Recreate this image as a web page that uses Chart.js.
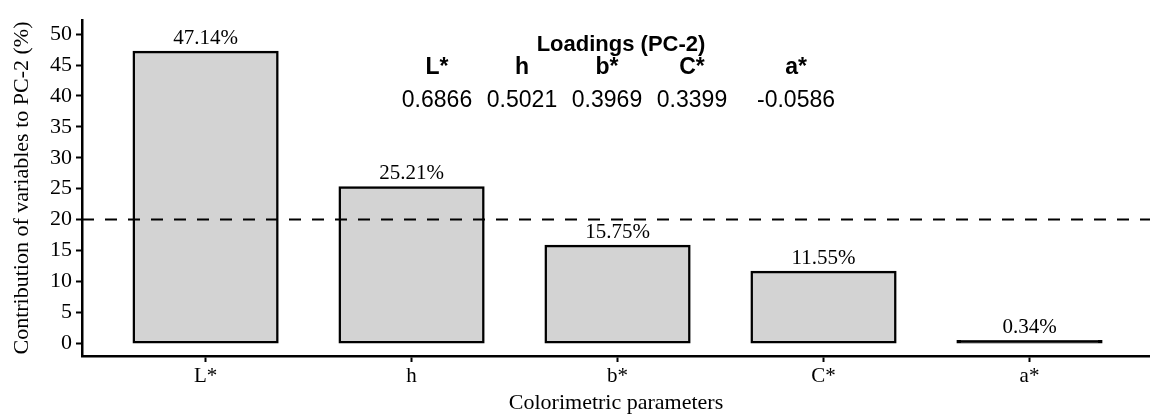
<!DOCTYPE html>
<html>
<head>
<meta charset="utf-8">
<script src="https://cdn.jsdelivr.net/npm/chart.js@4"></script>
<style>
    html, body { margin: 0; padding: 0; background: #fff; }
    #wrap { width: 1150px; height: 416px; position: relative; }
</style>
</head>
<body>
<div id="wrap"><canvas id="chart"></canvas></div>
<script>
// Chart data
const categories = ["L*", "h", "b*", "C*", "a*"];
const contributions = [47.14, 25.21, 15.75, 11.55, 0.34];
const loadings = ["0.6866", "0.5021", "0.3969", "0.3399", "-0.0586"];
const loadingsX = [437, 522, 607, 692, 796];
const yTicks = [0, 5, 10, 15, 20, 25, 30, 35, 40, 45, 50];
const threshold = 20;

const serif = "'Liberation Serif', 'Times New Roman', serif";
const sans = "'Liberation Sans', Arial, sans-serif";

// draws bar labels, dashed reference line and the loadings table
const overlayPlugin = {
    id: "overlay",
    afterDatasetsDraw(chart) {
        const ctx = chart.ctx;
        const area = chart.chartArea;
        const yScale = chart.scales.y;
        const meta = chart.getDatasetMeta(0);

        // dashed line at threshold
        const yLine = yScale.getPixelForValue(threshold);
        ctx.save();
        ctx.strokeStyle = "#000";
        ctx.lineWidth = 2;
        ctx.setLineDash([12, 11]);
        ctx.beginPath();
        ctx.moveTo(area.left, yLine);
        ctx.lineTo(area.right, yLine);
        ctx.stroke();
        ctx.restore();

        // value labels on bars
        ctx.save();
        ctx.fillStyle = "#000";
        ctx.font = "21px " + serif;
        ctx.textAlign = "center";
        ctx.textBaseline = "alphabetic";
        meta.data.forEach((bar, i) => {
            ctx.fillText(contributions[i].toFixed(2) + "%", bar.x, bar.y - 8);
        });
        ctx.restore();

        // loadings table
        ctx.save();
        ctx.fillStyle = "#000";
        ctx.textAlign = "center";
        ctx.textBaseline = "middle";
        ctx.font = "bold 22px " + sans;
        ctx.fillText("Loadings (PC-2)", 621, 45);
        categories.forEach((c, i) => {
            ctx.font = "bold 23px " + sans;
            ctx.fillText(c, loadingsX[i], 68);
            ctx.font = "23px " + sans;
            ctx.fillText(loadings[i], loadingsX[i], 101);
        });
        ctx.restore();
    },
};

const ctx = document.getElementById("chart").getContext("2d");
new Chart(ctx, {
    type: "bar",
    data: {
        datasets: [
            {
                data: contributions.map((v, i) => ({ x: i, y: v })),
                backgroundColor: (c) => (c.raw && c.raw.y < 1 ? "#000" : "#d3d3d3"),
                borderColor: "#000",
                borderWidth: 2.5,
                inflateAmount: 1,
                borderSkipped: false,
                barPercentage: 0.7,
                categoryPercentage: 1,
            },
        ],
    },
    options: {
        responsive: true,
        maintainAspectRatio: false,
        animation: false,
        layout: { padding: { top: 20, right: 0, left: 9, bottom: 0 } },
        plugins: {
            legend: { display: false },
            tooltip: { enabled: false },
        },
        scales: {
            x: {
                type: "linear",
                min: -0.6,
                max: 4.585,
                offset: false,
                afterBuildTicks: (axis) => {
                    axis.ticks = categories.map((c, i) => ({ value: i }));
                },
                afterFit: (axis) => {
                    axis.height = 60;
                },
                grid: {
                    display: true,
                    offset: false,
                    drawOnChartArea: false,
                    drawTicks: true,
                    tickLength: 6,
                    tickWidth: 2,
                    tickColor: "#000",
                },
                border: { display: true, color: "#000", width: 2.5 },
                ticks: {
                    color: "#000",
                    font: { family: serif, size: 21 },
                    padding: 2,
                    maxRotation: 0,
                    callback: (v) => categories[v] ?? "",
                },
                title: {
                    display: true,
                    text: "Colorimetric parameters",
                    color: "#000",
                    font: { family: serif, size: 22 },
                    padding: { top: 0, bottom: 0 },
                },
            },
            y: {
                min: -2.1,
                max: 52.3,
                afterBuildTicks: (axis) => {
                    axis.ticks = yTicks.map((v) => ({ value: v }));
                },
                afterFit: (axis) => {
                    axis.width = 73;
                },
                grid: {
                    display: true,
                    drawOnChartArea: false,
                    drawTicks: true,
                    tickLength: 6,
                    tickWidth: 2,
                    tickColor: "#000",
                },
                border: { display: true, color: "#000", width: 2.5 },
                ticks: {
                    color: "#000",
                    font: { family: serif, size: 22 },
                    padding: 4,
                },
                title: {
                    display: true,
                    text: "Contribution of variables to PC-2 (%)",
                    color: "#000",
                    font: { family: serif, size: 22 },
                    padding: { top: 0, bottom: 0 },
                },
            },
        },
    },
    plugins: [overlayPlugin],
});
</script>
</body>
</html>
